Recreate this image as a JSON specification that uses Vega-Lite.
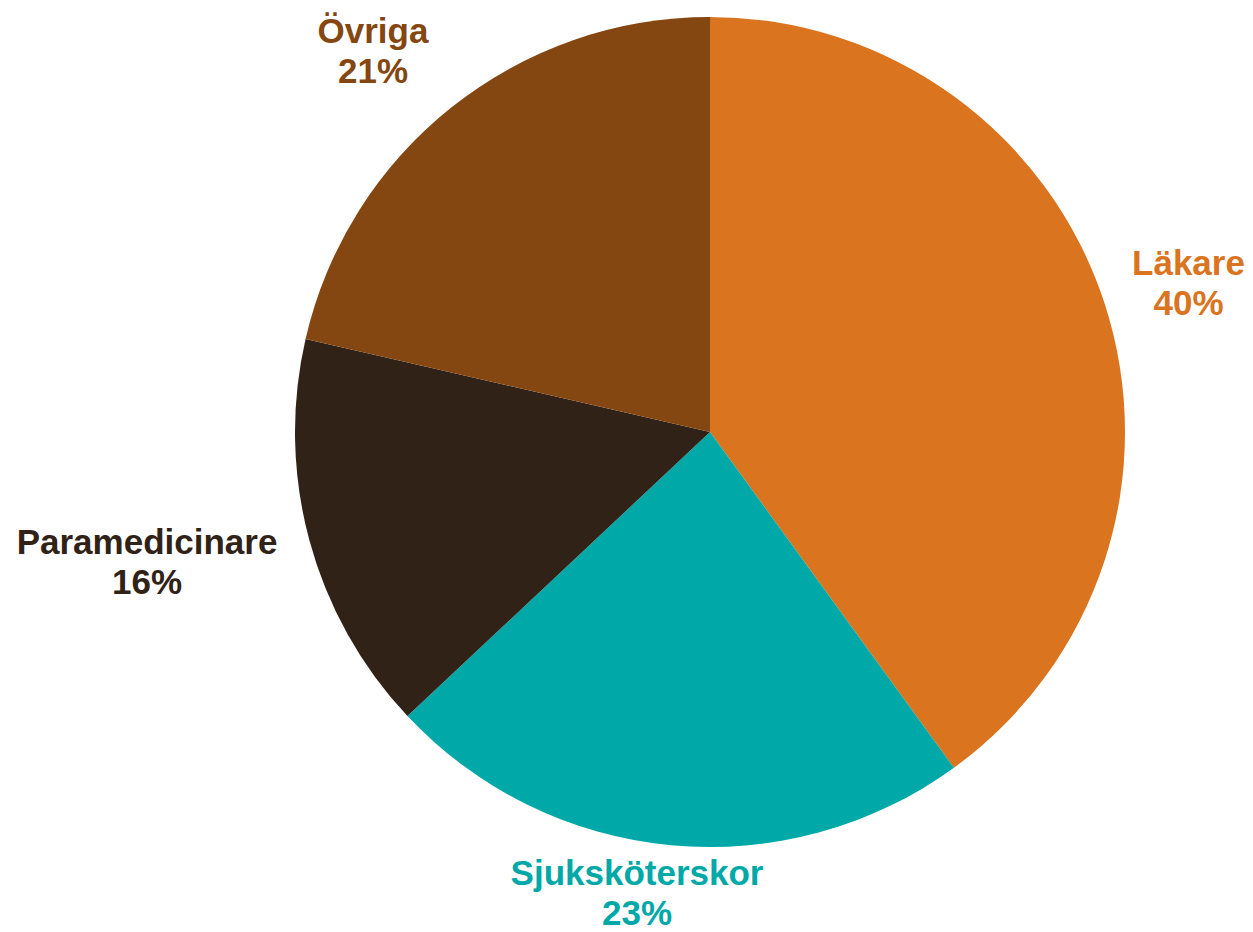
{
  "$schema": "https://vega.github.io/schema/vega-lite/v6.json",
  "width": 1086,
  "height": 864,
  "autosize": {"type": "none"},
  "padding": {"left": 167, "top": 0, "right": 0, "bottom": 68},
  "background": "white",
  "config": {"view": {"stroke": null}},
  "data": {
    "values": [
      {"category": "Läkare", "value": 40, "rank": 1, "label": "Läkare\n40%"},
      {"category": "Sjuksköterskor", "value": 23, "rank": 2, "label": "Sjuksköterskor\n23%"},
      {"category": "Paramedicinare", "value": 15.6, "rank": 3, "label": "Paramedicinare\n16%"},
      {"category": "Övriga", "value": 21.4, "rank": 4, "label": "Övriga\n21%"}
    ]
  },
  "encoding": {
    "theta": {"field": "value", "type": "quantitative", "stack": true},
    "order": {"field": "rank", "type": "quantitative", "sort": "ascending"},
    "color": {
      "field": "category",
      "type": "nominal",
      "scale": {
        "domain": ["Läkare", "Sjuksköterskor", "Paramedicinare", "Övriga"],
        "range": ["#DA741F", "#00A8A8", "#302216", "#844711"]
      },
      "legend": null
    }
  },
  "layer": [
    {"mark": {"type": "arc", "outerRadius": 415}},
    {
      "mark": {"type": "text", "radius": 501, "dx": 2, "dy": -13, "font": "Liberation Sans", "fontWeight": "bold", "fontSize": 35, "lineHeight": 40, "lineBreak": "\n", "align": "center", "baseline": "middle"},
      "encoding": {"text": {"condition": {"test": "datum.category === 'Läkare'", "field": "label"}, "value": ""}}
    },
    {
      "mark": {"type": "text", "radius": 467, "dx": -29, "dy": -23, "font": "Liberation Sans", "fontWeight": "bold", "fontSize": 35, "lineHeight": 40, "lineBreak": "\n", "align": "center", "baseline": "middle"},
      "encoding": {"text": {"condition": {"test": "datum.category === 'Sjuksköterskor'", "field": "label"}, "value": ""}}
    },
    {
      "mark": {"type": "text", "radius": 578, "dx": -5, "dy": -40, "font": "Liberation Sans", "fontWeight": "bold", "fontSize": 35, "lineHeight": 40, "lineBreak": "\n", "align": "center", "baseline": "middle"},
      "encoding": {"text": {"condition": {"test": "datum.category === 'Paramedicinare'", "field": "label"}, "value": ""}}
    },
    {
      "mark": {"type": "text", "radius": 509, "dx": -20, "dy": -2, "font": "Liberation Sans", "fontWeight": "bold", "fontSize": 35, "lineHeight": 40, "lineBreak": "\n", "align": "center", "baseline": "middle"},
      "encoding": {"text": {"condition": {"test": "datum.category === 'Övriga'", "field": "label"}, "value": ""}}
    }
  ]
}
